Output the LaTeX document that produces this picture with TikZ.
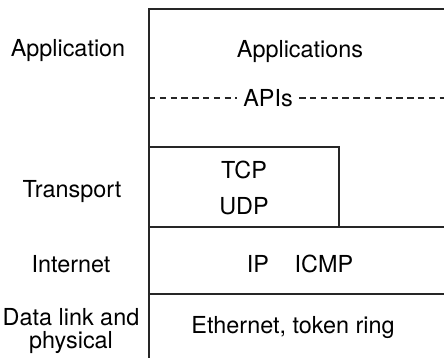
\documentclass[tikz,border=0pt]{standalone}
\usepackage{fontspec}
\setmainfont{TeX Gyre Heros}
\begin{document}
\begin{tikzpicture}[x=0.5pt,y=-0.5pt,
  lbl/.style={inner sep=1pt,font=\fontsize{11.7}{14.5}\selectfont,align=center},
  rule/.style={line width=0.6pt,black!85},
  dashrule/.style={rule,dash pattern=on 3.2pt off 2.2pt}]
\useasboundingbox (0,0) rectangle (444,358);
% frame lines
\coordinate (tl) at (149,9);
\coordinate (tr) at (444,9);
\coordinate (bl) at (149,358);
\coordinate (dl) at (149,98);
\coordinate (dr) at (444,98);
\coordinate (tcptl) at (149,147);
\coordinate (tcpbr) at (339,227);
\coordinate (il) at (149,227);
\coordinate (ir) at (444,227);
\coordinate (el) at (149,294);
\coordinate (er) at (444,294);
\draw[rule] (bl) -- (tl) -- (tr);
\draw[rule] (tcptl) rectangle (tcpbr);
\draw[rule] (il) -- (ir);
\draw[rule] (el) -- (er);
% right-side labels
\node[lbl] (apps) at (300,52) {Applications};
\node[lbl,fill=white,inner xsep=3pt] (apis) at (268,98) {APIs};
\draw[dashrule] (dl) -- (apis.west);
\draw[dashrule] (apis.east) -- (dr);
\node[lbl] (tcp) at (244,170) {TCP};
\node[lbl] (udp) at (244,206) {UDP};
\node[lbl] (ip) at (300,264) {IP\hspace{1.1em}ICMP};
\node[lbl] (eth) at (293,328) {Ethernet, token ring};
% left labels
\node[lbl] (la) at (68,51) {Application};
\node[lbl] (lt) at (72,192) {Transport};
\node[lbl] (li) at (71,264) {Internet};
\node[lbl,font=\fontsize{11.7}{11.5}\selectfont] (ld) at (71,331) {Data link and\\physical};
\end{tikzpicture}
\end{document}
